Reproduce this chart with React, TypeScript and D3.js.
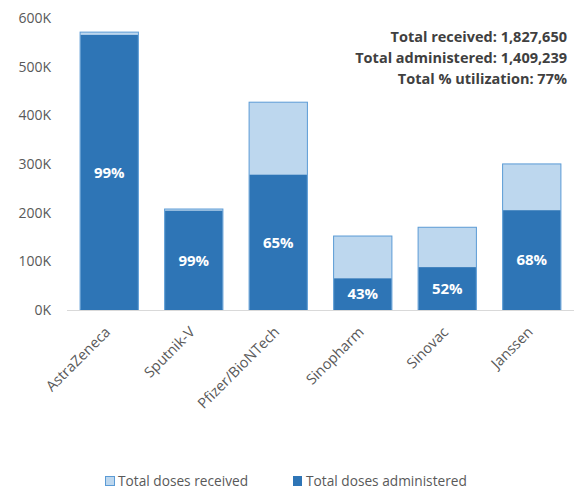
import React from "react";
import * as d3 from "d3";

const categories = ["AstraZeneca", "Sputnik-V", "Pfizer/BioNTech", "Sinopharm", "Sinovac", "Janssen"];
const received = [571000, 207500, 427000, 152000, 170000, 300150];
const administered = [565300, 204000, 278000, 65000, 88000, 205000];
const pctLabels = ["99%", "99%", "65%", "43%", "52%", "68%"];
const yTicks = [0, 100000, 200000, 300000, 400000, 500000, 600000];
const summaryLines = ["Total received: 1,827,650", "Total administered: 1,409,239", "Total % utilization: 77%"];
const legendLabels = ["Total doses received", "Total doses administered"];

const W = 574;
const H = 491;
const FONT = "'Open Sans', 'Liberation Sans', sans-serif";
const LIGHT = "#BDD7EE";
const DARK = "#2E75B6";
const EDGE = "#5B9BD5";

export default function App() {
  const x = d3.scaleBand<string>().domain(categories).range([67, 574]).paddingInner(0.31).paddingOuter(0.155);
  const y = d3.scaleLinear().domain([0, 600000]).range([310, 18]);
  const bw = x.bandwidth();
  const fmt = (v: number) => `${v / 1000}K`;

  return (
    <svg width={W} height={H} style={{ position: "absolute", left: 0, top: 0, background: "#fff" }} fontFamily={FONT}>
      {yTicks.map((t) => (
        <text key={t} x={51} y={y(t)} dy="0.35em" textAnchor="end" fontSize={14} fill="#595959">
          {fmt(t)}
        </text>
      ))}
      {categories.map((c, i) => {
        const x0 = x(c)!;
        return (
          <g key={c}>
            <rect x={x0} y={y(received[i])} width={bw} height={y(0) - y(received[i])} fill={LIGHT} stroke={EDGE} strokeWidth={1} />
            <rect x={x0 + 0.5} y={y(administered[i])} width={bw - 1} height={y(0) - y(administered[i])} fill={DARK} />
            <text
              x={x0 + bw / 2}
              y={(y(administered[i]) + y(0)) / 2}
              dy="0.35em"
              textAnchor="middle"
              fontSize={15}
              fontWeight="bold"
              fill="#fff"
            >
              {pctLabels[i]}
            </text>
            <text
              transform={`translate(${x0 + bw / 2 + 2},${333}) rotate(-45)`}
              textAnchor="end"
              fontSize={14.5}
              fill="#595959"
            >
              {c}
            </text>
          </g>
        );
      })}
      <line x1={67} x2={574} y1={y(0) + 0.5} y2={y(0) + 0.5} stroke="#D9D9D9" strokeWidth={1} />
      {summaryLines.map((s, i) => (
        <text key={s} x={567} y={42 + i * 21} textAnchor="end" fontSize={14.5} fontWeight="bold" fill="#404040">
          {s}
        </text>
      ))}
      <g>
        <rect x={105.5} y={476.5} width={9} height={9} fill={LIGHT} stroke={EDGE} />
        <text x={118} y={481} dy="0.35em" fontSize={13.7} fill="#595959">{legendLabels[0]}</text>
        <rect x={293} y={476} width={9} height={10} fill={DARK} />
        <text x={306} y={481} dy="0.35em" fontSize={13.7} fill="#595959">{legendLabels[1]}</text>
      </g>
    </svg>
  );
}
